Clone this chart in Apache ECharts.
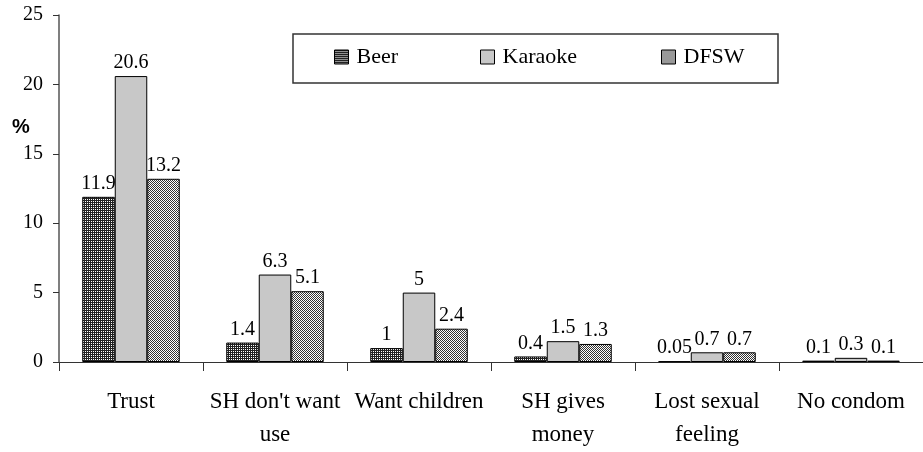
<!DOCTYPE html>
<html>
<head>
<meta charset="utf-8">
<style>
  html, body { margin: 0; padding: 0; background: #fff; }
  #chart { width: 923px; height: 452px; }
</style>
<script src="https://cdn.jsdelivr.net/npm/echarts@6/dist/echarts.min.js"></script>
</head>
<body>
<div id="chart"></div>
<script>
var categories = ['Trust', "SH don't want\nuse", 'Want children', 'SH gives\nmoney', 'Lost sexual\nfeeling', 'No condom'];
var beerData = [11.9, 1.4, 1, 0.4, 0.05, 0.1];
var karaokeData = [20.6, 6.3, 5, 1.5, 0.7, 0.3];
var dfswData = [13.2, 5.1, 2.4, 1.3, 0.7, 0.1];
var yTicks = [0, 5, 10, 15, 20, 25];

// little tiles for the hatched fills
function makeTile(w, h, draw) {
  var c = document.createElement('canvas');
  c.width = w;
  c.height = h;
  var ctx = c.getContext('2d');
  ctx.fillStyle = '#fff';
  ctx.fillRect(0, 0, w, h);
  draw(ctx);
  return c;
}
var beerTile = makeTile(2, 2, function (ctx) {
  ctx.fillStyle = '#222';
  ctx.fillRect(0, 0, 1, 2);
  ctx.fillRect(1, 0, 1, 1);
});
var dfswTile = makeTile(2, 2, function (ctx) {
  ctx.fillStyle = '#333';
  ctx.fillRect(0, 0, 1, 1);
  ctx.fillRect(1, 1, 1, 1);
});

var serif = '"Liberation Serif", "Times New Roman", serif';
var chart = echarts.init(document.getElementById('chart'));

function legendAt(name, left) {
  return {
    data: [name],
    left: left,
    top: 46,
    itemWidth: 14,
    itemHeight: 14,
    icon: 'rect',
    itemStyle: { borderColor: '#000', borderWidth: 1 },
    textStyle: { fontFamily: serif, fontSize: 22, color: '#000', padding: [0, 0, 0, 3] },
    padding: 0
  };
}

var labelCfg = {
  show: true,
  position: 'top',
  distance: 3,
  fontFamily: serif,
  fontSize: 20,
  color: '#000'
};

chart.setOption({
  animation: false,
  grid: { left: 59, top: 15, width: 870, height: 347, containLabel: false },
  legend: [legendAt('Beer', 334), legendAt('Karaoke', 480), legendAt('DFSW', 661)],
  graphic: [
    {
      type: 'rect',
      shape: { x: 293, y: 34, width: 485, height: 49 },
      style: { fill: 'none', stroke: '#333', lineWidth: 1.5 },
      z: 0
    },
    {
      type: 'text',
      left: 12,
      top: 117,
      style: { text: '%', font: 'bold 20px "Liberation Sans", Arial, sans-serif', fill: '#000' }
    }
  ],
  xAxis: {
    type: 'category',
    data: categories,
    axisLine: { lineStyle: { color: '#333', width: 1 } },
    axisTick: { show: true, interval: 0, length: 9, lineStyle: { color: '#333' } },
    axisLabel: {
      interval: 0,
      margin: 23,
      fontFamily: serif,
      fontSize: 23,
      lineHeight: 33,
      color: '#000'
    }
  },
  yAxis: {
    type: 'value',
    min: yTicks[0],
    max: yTicks[yTicks.length - 1],
    interval: 5,
    splitLine: { show: false },
    axisLine: { show: true, lineStyle: { color: '#555', width: 1.5 } },
    axisTick: { show: true, length: 6, lineStyle: { color: '#333' } },
    axisLabel: { margin: 16, fontFamily: serif, fontSize: 20, color: '#000' }
  },
  series: [
    {
      name: 'Beer',
      type: 'bar',
      data: beerData,
      barWidth: 32.5,
      barGap: '0%',
      itemStyle: { color: { image: beerTile, repeat: 'repeat' }, borderColor: '#000', borderWidth: 1 },
      label: labelCfg
    },
    {
      name: 'Karaoke',
      type: 'bar',
      data: karaokeData,
      barWidth: 32.5,
      barGap: '0%',
      itemStyle: { color: '#c8c8c8', borderColor: '#000', borderWidth: 1 },
      label: labelCfg
    },
    {
      name: 'DFSW',
      type: 'bar',
      data: dfswData,
      barWidth: 32.5,
      barGap: '0%',
      itemStyle: { color: { image: dfswTile, repeat: 'repeat' }, borderColor: '#000', borderWidth: 1 },
      label: labelCfg
    }
  ]
});
</script>
</body>
</html>
